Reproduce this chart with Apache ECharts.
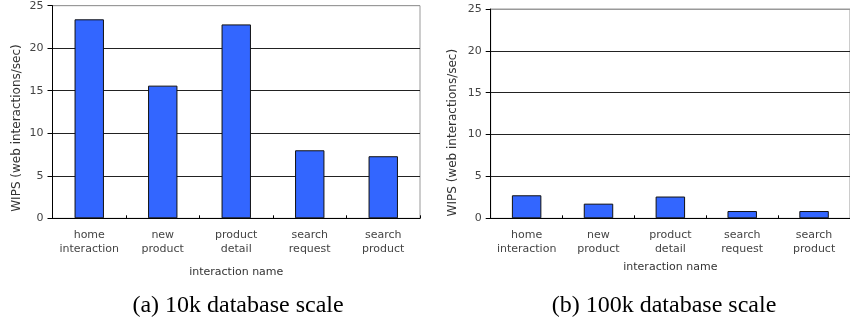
<!DOCTYPE html>
<html>
<head>
<meta charset="utf-8">
<script src="https://cdn.jsdelivr.net/npm/echarts@6/dist/echarts.min.js"></script>
<style>
html,body{margin:0;padding:0;background:#fff;}
#c{width:850px;height:322px;}
</style>
</head>
<body>
<div id="c"></div>
<script>
const categories = ['home\ninteraction', 'new\nproduct', 'product\ndetail', 'search\nrequest', 'search\nproduct'];
const wips10k = [23.4, 15.6, 22.8, 8.0, 7.3];
const wips100k = [2.75, 1.75, 2.6, 0.87, 0.87];
const yTicks = { min: 0, max: 25, interval: 5 };
const captions = ['(a) 10k database scale', '(b) 100k database scale'];
const yName = 'WIPS (web interactions/sec)';
const xName = 'interaction name';

const font = 'DejaVu Sans';
function xAxis(gridIndex, nameGap) {
  return {
    type: 'category', gridIndex, data: categories,
    name: xName, nameLocation: 'middle', nameGap,
    nameTextStyle: { fontFamily: font, fontSize: 11, color: '#333' },
    axisLine: { lineStyle: { color: '#000', width: 1 } },
    axisTick: { show: true, interval: 0, inside: true, length: 3, lineStyle: { color: '#000' } },
    axisLabel: { interval: 0, fontFamily: font, fontSize: 11, color: '#444', lineHeight: 14, margin: 10 },
    splitLine: { show: false }
  };
}
function yAxis(gridIndex, nameGap, shift) {
  return {
    type: 'value', gridIndex, min: yTicks.min, max: yTicks.max, interval: yTicks.interval,
    name: yName, nameLocation: 'middle', nameGap, nameRotate: 90,
    nameTextStyle: { fontFamily: font, fontSize: 12, color: '#333', padding: [0, shift, 0, 0] },
    axisLine: { show: true, lineStyle: { color: '#000', width: 1 } },
    axisTick: { show: true, inside: false, length: 5, lineStyle: { color: '#000' } },
    axisLabel: { fontFamily: font, fontSize: 11, color: '#444', margin: 9 },
    splitLine: { show: true, lineStyle: { color: ['#000', '#222', '#222', '#222', '#222', '#999'], width: 1 } }
  };
}
const chart = echarts.init(document.getElementById('c'), null, { renderer: 'canvas' });
chart.setOption({
  animation: false,
  title: [
    { text: captions[0], left: 233, top: 289, textAlign: 'center',
      textStyle: { fontFamily: 'Liberation Serif', fontSize: 24, fontWeight: 'normal', color: '#000' } },
    { text: captions[1], left: 659, top: 289, textAlign: 'center',
      textStyle: { fontFamily: 'Liberation Serif', fontSize: 24, fontWeight: 'normal', color: '#000' } }
  ],
  grid: [
    { left: 52.5, top: 5.7, width: 367.5, height: 212.6, show: true, borderColor: '#999', borderWidth: 1, containLabel: false },
    { left: 490.7, top: 9, width: 365, height: 209.3, show: true, borderColor: '#999', borderWidth: 1, containLabel: false }
  ],
  xAxis: [xAxis(0, 48), xAxis(1, 43)],
  yAxis: [yAxis(0, 30, 32), yAxis(1, 32, 38)],
  series: [
    { type: 'bar', xAxisIndex: 0, yAxisIndex: 0, data: wips10k, barWidth: '40%',
      itemStyle: { color: '#3366ff', borderColor: '#111', borderWidth: 1 } },
    { type: 'bar', xAxisIndex: 1, yAxisIndex: 1, data: wips100k, barWidth: '41%',
      itemStyle: { color: '#3366ff', borderColor: '#111', borderWidth: 1 } }
  ]
});
</script>
</body>
</html>
